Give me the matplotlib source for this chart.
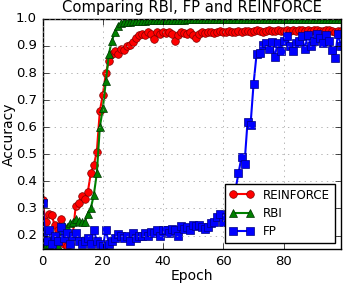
import numpy as np
import matplotlib
matplotlib.use('Agg')
import matplotlib.pyplot as plt

plt.style.use('classic')

epochs = np.arange(100)

# accuracy per epoch
reinforce = [0.33, 0.25, 0.28, 0.275, 0.24, 0.22, 0.26, 0.17, 0.16, 0.17,
             0.20, 0.31, 0.32, 0.345, 0.335, 0.36, 0.43, 0.46, 0.51, 0.66,
             0.72, 0.80, 0.845, 0.87, 0.88, 0.87, 0.89, 0.885, 0.90, 0.905,
             0.915, 0.93, 0.94, 0.945, 0.94, 0.95, 0.945, 0.925, 0.95, 0.945,
             0.95, 0.948, 0.952, 0.945, 0.92, 0.94, 0.95, 0.948, 0.945, 0.95,
             0.94, 0.93, 0.945, 0.95, 0.948, 0.95, 0.952, 0.948, 0.95, 0.955,
             0.95, 0.952, 0.955, 0.95, 0.953, 0.955, 0.95, 0.955, 0.957, 0.953,
             0.955, 0.958, 0.955, 0.953, 0.956, 0.958, 0.955, 0.957, 0.958, 0.955,
             0.957, 0.96, 0.956, 0.958, 0.955, 0.96, 0.958, 0.957, 0.96, 0.955,
             0.958, 0.96, 0.957, 0.955, 0.958, 0.96, 0.956, 0.95, 0.955, 0.957]

rbi = [0.20, 0.16, 0.17, 0.19, 0.20, 0.16, 0.22, 0.235, 0.23, 0.245,
       0.25, 0.26, 0.255, 0.25, 0.25, 0.28, 0.30, 0.35, 0.43, 0.60,
       0.67, 0.77, 0.87, 0.92, 0.95, 0.975, 0.985, 0.988, 0.99, 0.99,
       0.992, 0.993, 0.993, 0.994, 0.994, 0.995, 0.995, 0.995, 0.996, 0.996,
       0.996, 0.996, 0.997, 0.997, 0.997, 0.997, 0.997, 0.997, 0.998, 0.998,
       0.998, 0.998, 0.998, 0.998, 0.998, 0.998, 0.998, 0.998, 0.998, 0.998,
       0.998, 0.998, 0.998, 0.998, 0.998, 0.998, 0.998, 0.998, 0.998, 0.998,
       0.998, 0.998, 0.998, 0.998, 0.998, 0.998, 0.998, 0.998, 0.998, 0.998,
       0.998, 0.998, 0.998, 0.998, 0.998, 0.998, 0.998, 0.998, 0.998, 0.998,
       0.998, 0.998, 0.998, 0.998, 0.998, 0.998, 0.998, 0.998, 0.998, 0.998]

fp = [0.32, 0.18, 0.22, 0.17, 0.20, 0.18, 0.23, 0.19, 0.21, 0.17,
      0.20, 0.21, 0.18, 0.17, 0.18, 0.19, 0.17, 0.22, 0.18, 0.17,
      0.16, 0.22, 0.17, 0.18, 0.19, 0.205, 0.20, 0.19, 0.20, 0.18,
      0.21, 0.19, 0.20, 0.20, 0.21, 0.20, 0.215, 0.21, 0.22, 0.20,
      0.22, 0.22, 0.21, 0.225, 0.22, 0.20, 0.235, 0.225, 0.23, 0.22,
      0.24, 0.235, 0.24, 0.23, 0.225, 0.23, 0.245, 0.25, 0.27, 0.28,
      0.25, 0.27, 0.29, 0.32, 0.37, 0.43, 0.49, 0.465, 0.62, 0.61,
      0.76, 0.87, 0.875, 0.905, 0.91, 0.89, 0.915, 0.86, 0.91, 0.88,
      0.92, 0.935, 0.90, 0.88, 0.91, 0.92, 0.935, 0.89, 0.94, 0.90,
      0.92, 0.945, 0.93, 0.91, 0.94, 0.92, 0.885, 0.855, 0.945, 0.90]

fig = plt.figure(figsize=(3.46, 2.86), dpi=100, facecolor='white')
ax = fig.add_axes([0.123, 0.129, 0.8625, 0.805])

ax.plot(epochs, reinforce, 'o-', color='red', lw=1.5, ms=5.5,
        mec='#800000', mew=0.5, label='REINFORCE')
ax.plot(epochs, rbi, '^-', color='green', lw=1.5, ms=5.5,
        mec='#003300', mew=0.5, label='RBI')
ax.plot(epochs, fp, 's-', color='blue', lw=1.5, ms=5.5,
        mec='#000080', mew=0.5, label='FP')

ax.set_xlim(0, 99)
ax.set_ylim(0.15, 1.0)
ax.set_xticks([0, 20, 40, 60, 80])
ax.set_yticks([0.2, 0.3, 0.4, 0.5, 0.6, 0.7, 0.8, 0.9, 1.0])
ax.tick_params(labelsize=9.5)
ax.grid(True, color='#999999')
ax.set_xlabel('Epoch', fontsize=10, labelpad=1)
ax.set_ylabel('Accuracy', fontsize=10, labelpad=0)
ax.set_title('Comparing RBI, FP and REINFORCE', fontsize=10.6, y=1.0)

ax.legend(loc='lower right', fontsize=8.6, numpoints=2, borderaxespad=0.5,
          handlelength=2.0, labelspacing=0.45, frameon=True)

fig.savefig('out.png', dpi=100, facecolor='white')
